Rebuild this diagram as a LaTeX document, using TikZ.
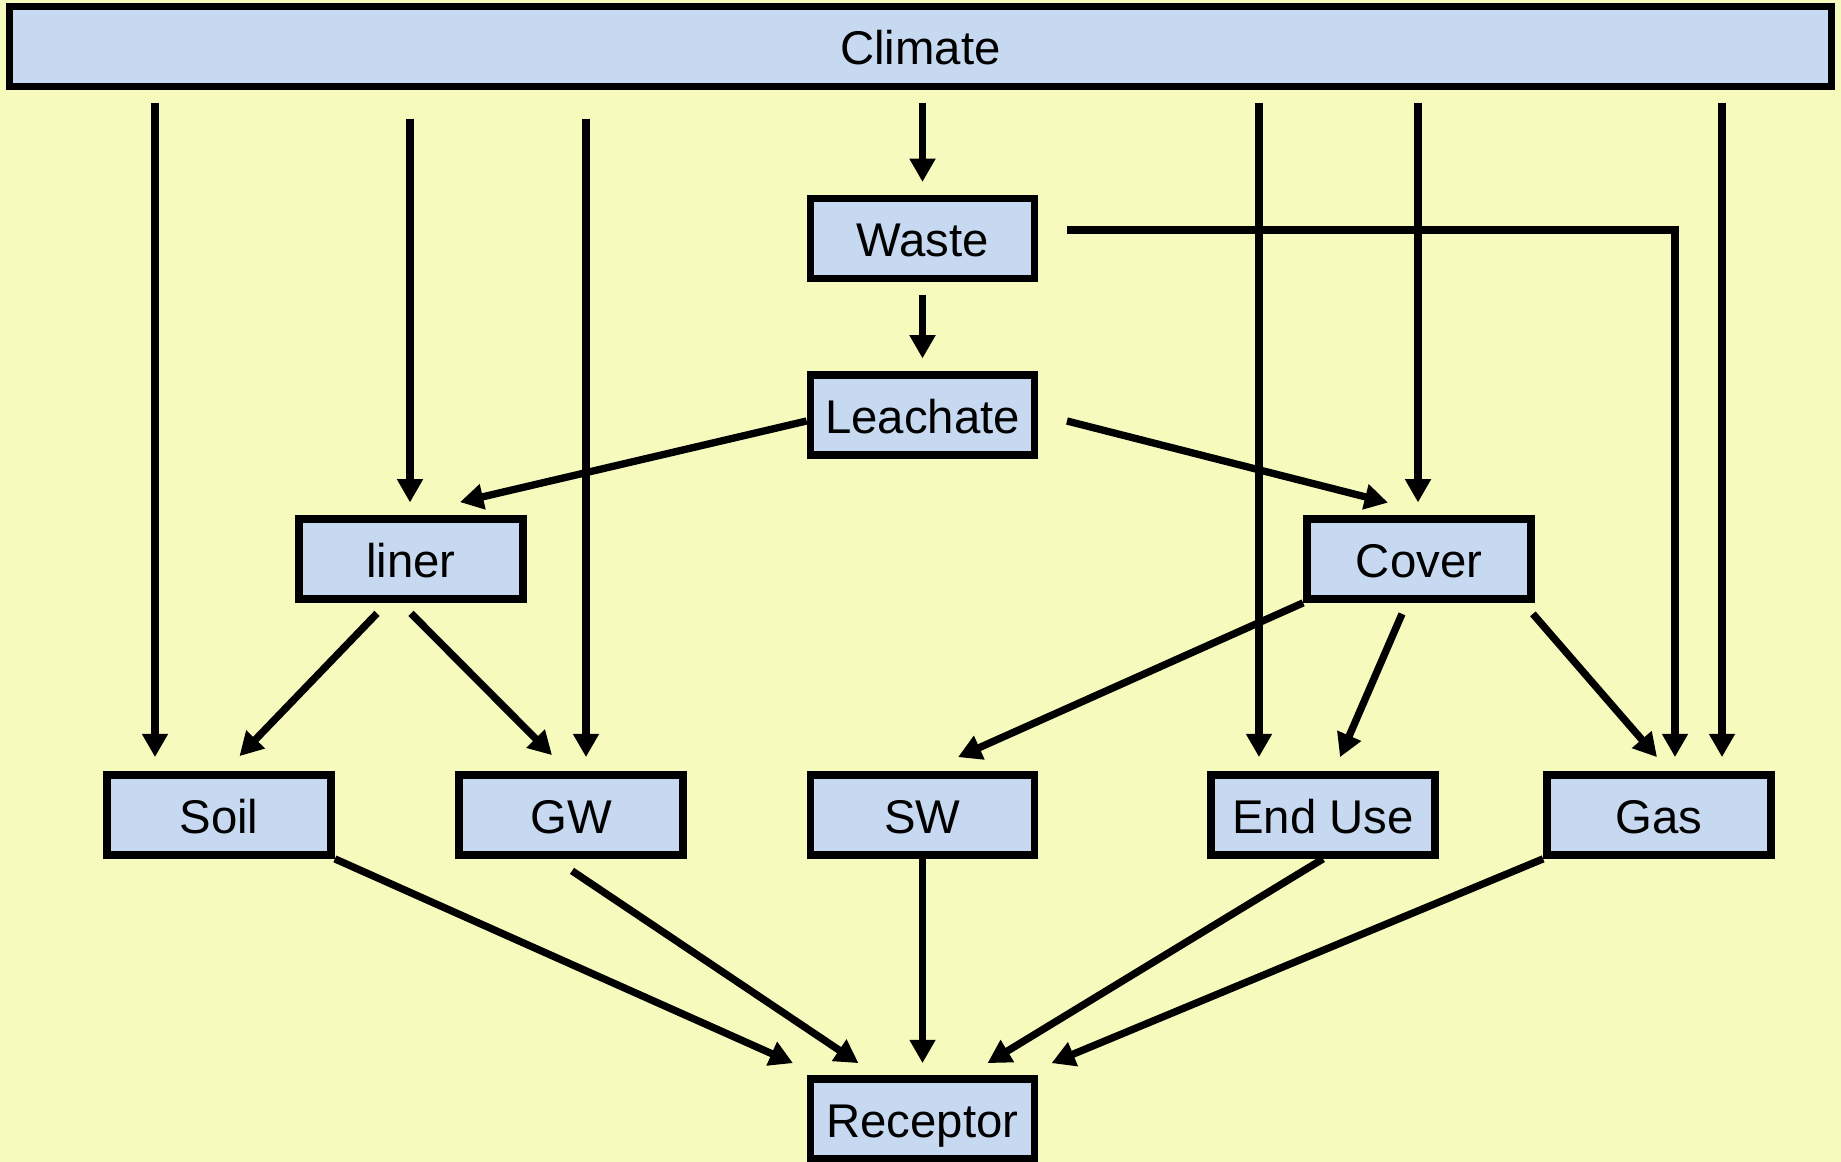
\documentclass[tikz,border=0pt]{standalone}
\usepackage{fontspec}
\setmainfont{Liberation Sans}
\usetikzlibrary{arrows.meta}
\definecolor{paper}{RGB}{246,251,189}
\definecolor{boxfill}{RGB}{198,217,241}

\begin{document}
\begin{tikzpicture}[x=0.75pt,y=-0.75pt,
  box/.style={draw=black, fill=boxfill, line width=5.8pt, inner sep=0pt,
    minimum width=168pt, minimum height=60pt,
    text height=27pt, text depth=0pt,
    font=\fontsize{35.5}{42}\selectfont},
  link/.style={line width=5.5pt, -{Triangle[length=17.5pt,width=18.5pt]}},
  ]
  % page and background
  \fill[paper] (0,0) rectangle (1841,1162);
  \useasboundingbox (0,0) rectangle (1841,1162);

  % boxes
  \node[box, minimum width=1366.5pt] (climate) at (920.5,46.5) {Climate};
  \node[box] (waste)    at (922.5,238.5) {Waste};
  \node[box] (leachate) at (922.5,415)   {Leachate};
  \node[box] (liner)    at (411,559)     {liner};
  \node[box] (cover)    at (1419,559)    {Cover};
  \node[box] (soil)     at (219,815)     {Soil};
  \node[box] (gw)       at (571,815)     {GW};
  \node[box] (sw)       at (922.5,815)   {SW};
  \node[box] (enduse)   at (1323,815)    {End Use};
  \node[box] (gas)      at (1659,815)    {Gas};
  \node[box] (receptor) at (922.5,1119)  {Receptor};

  % climate drives every compartment
  \draw[link, shorten <=9.5pt, shorten >=10.5pt]
    ([shift={(-64,0)}]soil.north |- climate.south) -- ([shift={(-64,0)}]soil.north);
  \draw[link, shorten <=21.2pt, shorten >=9.5pt]
    ([shift={(-1,0)}]liner.north |- climate.south) -- ([shift={(-1,0)}]liner.north);
  \draw[link, shorten <=21.2pt, shorten >=10.5pt]
    ([shift={(15,0)}]gw.north |- climate.south) -- ([shift={(15,0)}]gw.north);
  \draw[link, shorten <=9.5pt, shorten >=9.5pt]
    (waste.north |- climate.south) -- (waste.north);
  \draw[link, shorten <=9.5pt, shorten >=10.5pt]
    ([shift={(-64,0)}]enduse.north |- climate.south) -- ([shift={(-64,0)}]enduse.north);
  \draw[link, shorten <=9.5pt, shorten >=9.5pt]
    ([shift={(-1,0)}]cover.north |- climate.south) -- ([shift={(-1,0)}]cover.north);
  \draw[link, shorten <=9.5pt, shorten >=10.5pt]
    ([shift={(63,0)}]gas.north |- climate.south) -- ([shift={(63,0)}]gas.north);

  % waste
  \draw[link] ([shift={(28.6,-8.5)}]waste.east) -| ([shift={(16,-14)}]gas.north);
  \draw[link, shorten <=9.5pt, shorten >=9.5pt] (waste.south) -- (leachate.north);

  % leachate
  \draw[link] ([shift={(0,6)}]leachate.west) -- ([shift={(49,-13)}]liner.north);
  \draw[link] ([shift={(28.6,6)}]leachate.east) -- ([shift={(-31,-12.5)}]cover.north);

  % liner
  \draw[link] ([shift={(-34,10.5)}]liner.south) -- ([shift={(20.5,-15)}]soil.north);
  \draw[link] ([shift={(0,10.5)}]liner.south) -- ([shift={(-19,-16)}]gw.north);

  % cover
  \draw[link] (cover.south west) -- ([shift={(35.5,-14)}]sw.north);
  \draw[link] ([shift={(-17,11)}]cover.south) -- ([shift={(17,-14)}]enduse.north);
  \draw[link] ([shift={(-2,11)}]cover.south east) -- ([shift={(-2,-14)}]gas.north);

  % pathways to the receptor
  \draw[link] (soil.south east) -- ([shift={(-129.5,-12)}]receptor.north);
  \draw[link] ([shift={(1,12)}]gw.south) -- ([shift={(-64,-12)}]receptor.north);
  \draw[link] (sw.south) -- ([shift={(0,-12)}]receptor.north);
  \draw[link] (enduse.south) -- ([shift={(65,-12)}]receptor.north);
  \draw[link] (gas.south west) -- ([shift={(129,-12)}]receptor.north);
\end{tikzpicture}
\end{document}
